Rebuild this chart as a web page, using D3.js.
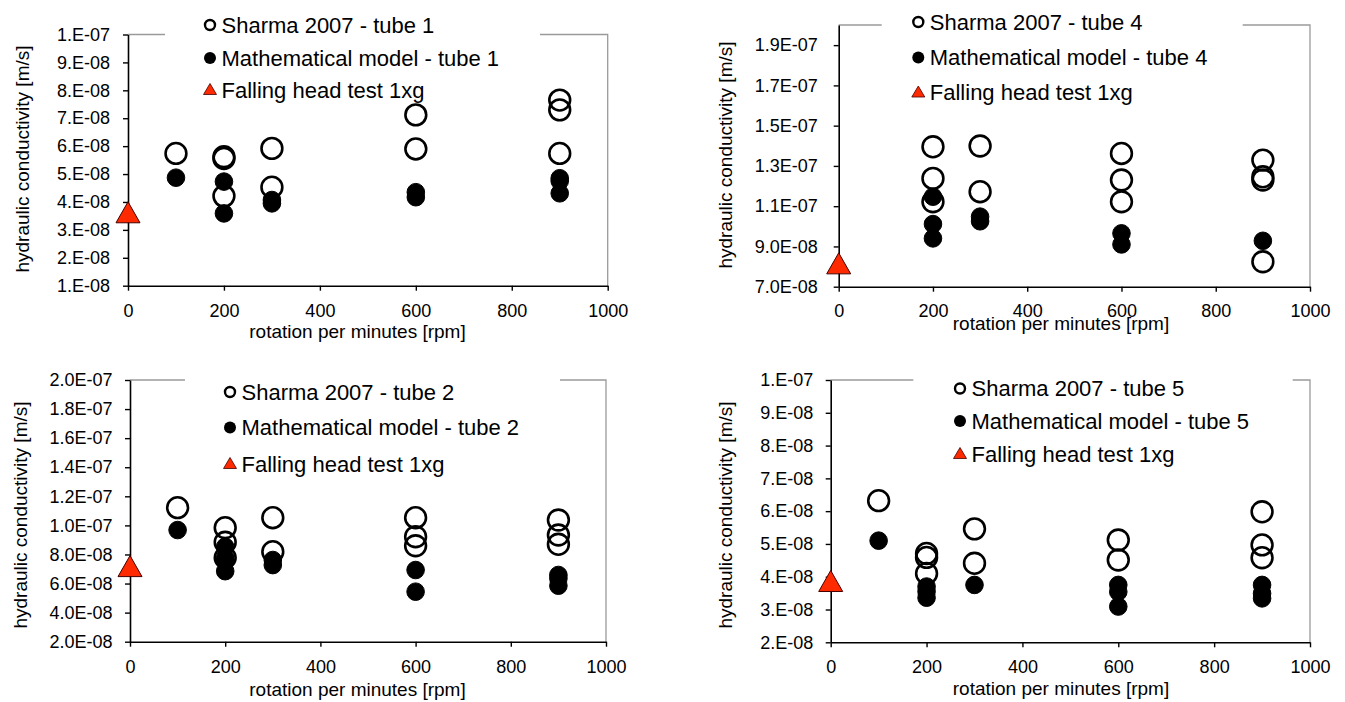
<!DOCTYPE html>
<html>
<head>
<meta charset="utf-8">
<script src="https://cdn.jsdelivr.net/npm/d3@7"></script>
<style>
  html, body { margin: 0; padding: 0; background: #fff; }
  svg { display: block; }
</style>
</head>
<body>
<svg id="chart" width="1345" height="702"></svg>
<script>
// ---------------- DATA ----------------
const xTickValues = [0, 200, 400, 600, 800, 1000];
const xTickLabels = ["0", "200", "400", "600", "800", "1000"];

// tube 1
const tube1SharmaRpm = [100, 200, 200, 200, 300, 300, 600, 600, 900, 900, 900];
const tube1SharmaK   = [5.74e-8, 5.56e-8, 5.62e-8, 4.21e-8, 5.92e-8, 4.53e-8, 7.12e-8, 5.90e-8, 7.65e-8, 7.30e-8, 5.74e-8];
const tube1ModelRpm  = [100, 200, 200, 300, 300, 600, 600, 900, 900, 900];
const tube1ModelK    = [4.87e-8, 4.73e-8, 3.59e-8, 4.07e-8, 3.95e-8, 4.35e-8, 4.17e-8, 4.85e-8, 4.75e-8, 4.31e-8];
const tube1FallingRpm = [0];
const tube1FallingK   = [3.63e-8];
const tube1TickValues = [1e-8, 2e-8, 3e-8, 4e-8, 5e-8, 6e-8, 7e-8, 8e-8, 9e-8, 1e-7];
const tube1TickLabels = ["1.E-08", "2.E-08", "3.E-08", "4.E-08", "5.E-08", "6.E-08", "7.E-08", "8.E-08", "9.E-08", "1.E-07"];

// tube 4
const tube4SharmaRpm = [200, 200, 200, 300, 300, 600, 600, 600, 900, 900, 900, 900];
const tube4SharmaK   = [1.395e-7, 1.238e-7, 1.122e-7, 1.399e-7, 1.172e-7, 1.362e-7, 1.230e-7, 1.122e-7, 1.329e-7, 1.246e-7, 1.230e-7, 8.24e-8];
const tube4ModelRpm  = [200, 200, 200, 300, 300, 600, 600, 900];
const tube4ModelK    = [1.147e-7, 1.011e-7, 9.40e-8, 1.048e-7, 1.025e-7, 9.65e-8, 9.10e-8, 9.28e-8];
const tube4FallingRpm = [0];
const tube4FallingK   = [8.16e-8];
const tube4TickValues = [7e-8, 9e-8, 1.1e-7, 1.3e-7, 1.5e-7, 1.7e-7, 1.9e-7];
const tube4TickLabels = ["7.0E-08", "9.0E-08", "1.1E-07", "1.3E-07", "1.5E-07", "1.7E-07", "1.9E-07"];

// tube 2
const tube2SharmaRpm = [100, 200, 200, 200, 300, 300, 600, 600, 600, 900, 900, 900];
const tube2SharmaK   = [1.122e-7, 9.84e-8, 8.84e-8, 7.78e-8, 1.053e-7, 8.19e-8, 1.053e-7, 9.22e-8, 8.60e-8, 1.037e-7, 9.34e-8, 8.70e-8];
const tube2ModelRpm  = [100, 200, 200, 200, 200, 300, 300, 600, 600, 900, 900, 900];
const tube2ModelK    = [9.68e-8, 8.53e-8, 7.78e-8, 7.60e-8, 6.85e-8, 7.62e-8, 7.27e-8, 6.93e-8, 5.44e-8, 6.59e-8, 6.35e-8, 5.85e-8];
const tube2FallingRpm = [0];
const tube2FallingK   = [7.2e-8];
const tube2TickValues = [2e-8, 4e-8, 6e-8, 8e-8, 1e-7, 1.2e-7, 1.4e-7, 1.6e-7, 1.8e-7, 2e-7];
const tube2TickLabels = ["2.0E-08", "4.0E-08", "6.0E-08", "8.0E-08", "1.0E-07", "1.2E-07", "1.4E-07", "1.6E-07", "1.8E-07", "2.0E-07"];

// tube 5
const tube5SharmaRpm = [100, 200, 200, 200, 300, 300, 600, 600, 900, 900, 900];
const tube5SharmaK   = [6.32e-8, 4.71e-8, 4.59e-8, 4.10e-8, 5.46e-8, 4.41e-8, 5.12e-8, 4.51e-8, 5.98e-8, 4.97e-8, 4.58e-8];
const tube5ModelRpm  = [100, 200, 200, 200, 300, 600, 600, 600, 900, 900, 900];
const tube5ModelK    = [5.10e-8, 3.70e-8, 3.55e-8, 3.36e-8, 3.75e-8, 3.75e-8, 3.54e-8, 3.09e-8, 3.75e-8, 3.49e-8, 3.34e-8];
const tube5FallingRpm = [0];
const tube5FallingK   = [3.87e-8];
const tube5TickValues = [2e-8, 3e-8, 4e-8, 5e-8, 6e-8, 7e-8, 8e-8, 9e-8, 1e-7];
const tube5TickLabels = ["2.E-08", "3.E-08", "4.E-08", "5.E-08", "6.E-08", "7.E-08", "8.E-08", "9.E-08", "1.E-07"];

const xTitle = "rotation per minutes [rpm]";
const yTitle = "hydraulic conductivity [m/s]";
const legendLabels1 = ["Sharma 2007 - tube 1", "Mathematical model - tube 1", "Falling head test 1xg"];
const legendLabels4 = ["Sharma 2007 - tube 4", "Mathematical model - tube 4", "Falling head test 1xg"];
const legendLabels2 = ["Sharma 2007 - tube 2", "Mathematical model - tube 2", "Falling head test 1xg"];
const legendLabels5 = ["Sharma 2007 - tube 5", "Mathematical model - tube 5", "Falling head test 1xg"];

// ---------------- LAYOUT / STYLE ----------------
const FONT = "'Liberation Sans', Arial, Helvetica, sans-serif";
const RED = "#ff2a00";

const panels = [
  { sharma: [tube1SharmaRpm, tube1SharmaK], model: [tube1ModelRpm, tube1ModelK], fall: [tube1FallingRpm, tube1FallingK],
    yDomain: [1e-8, 1e-7], yTicks: tube1TickValues, yLabels: tube1TickLabels, legend: legendLabels1,
    x0: 128, x1: 607.7, yB: 285.7, yT: 34.5, yPad: 13, xLabY: 31, xTitleX: 357.5, xTitleY: 337.5,
    yTitleX: 22, yTitleY: 159, gap: [165, 540], legX: 210, legY: [25, 58, 90] },
  { sharma: [tube4SharmaRpm, tube4SharmaK], model: [tube4ModelRpm, tube4ModelK], fall: [tube4FallingRpm, tube4FallingK],
    yDomain: [7e-8, 2e-7], yTicks: tube4TickValues, yLabels: tube4TickLabels, legend: legendLabels4,
    x0: 838.7, x1: 1310, yB: 286.7, yT: 25, yPad: 16, xLabY: 30, xTitleX: 1061, xTitleY: 329.5,
    yTitleX: 725, yTitleY: 155, gap: [881.7, 1242.7], legX: 918.3, legY: [22, 57.5, 92.5] },
  { sharma: [tube2SharmaRpm, tube2SharmaK], model: [tube2ModelRpm, tube2ModelK], fall: [tube2FallingRpm, tube2FallingK],
    yDomain: [2e-8, 2e-7], yTicks: tube2TickValues, yLabels: tube2TickLabels, legend: legendLabels2,
    x0: 130, x1: 606, yB: 641.7, yT: 380, yPad: 12.5, xLabY: 31.3, xTitleX: 357.5, xTitleY: 696,
    yTitleX: 20, yTitleY: 515, gap: [185, 560], legX: 230, legY: [392, 427.5, 464] },
  { sharma: [tube5SharmaRpm, tube5SharmaK], model: [tube5ModelRpm, tube5ModelK], fall: [tube5FallingRpm, tube5FallingK],
    yDomain: [2e-8, 1e-7], yTicks: tube5TickValues, yLabels: tube5TickLabels, legend: legendLabels5,
    x0: 830.7, x1: 1310, yB: 642.3, yT: 380, yPad: 12.5, xLabY: 30.7, xTitleX: 1061, xTitleY: 694.5,
    yTitleX: 725, yTitleY: 515, gap: [913.3, 1292.7], legX: 960, legY: [388.5, 421, 454] }
];

const svg = d3.select("#chart");

function triPath(w, h) {
  return `M0,${-h / 2}L${w / 2},${h / 2}L${-w / 2},${h / 2}Z`;
}

panels.forEach(p => {
  const g = svg.append("g");
  const x = d3.scaleLinear().domain([0, 1000]).range([p.x0, p.x1]);
  const y = d3.scaleLinear().domain(p.yDomain).range([p.yB, p.yT]);

  // grey top & right frame
  g.append("path")
    .attr("d", `M${p.x0},${p.yT}H${p.x1}V${p.yB}`)
    .attr("fill", "none").attr("stroke", "#9a9a9a").attr("stroke-width", 1.3);

  // legend background covers part of the top frame line only
  g.append("rect")
    .attr("x", p.gap[0]).attr("y", p.yT - 4)
    .attr("width", p.gap[1] - p.gap[0]).attr("height", 8)
    .attr("fill", "#fff");

  // y axis
  const yAxis = d3.axisLeft(y).tickValues(p.yTicks)
    .tickFormat((d, i) => p.yLabels[i]).tickSizeInner(5).tickSizeOuter(0).tickPadding(p.yPad);
  const yg = g.append("g").attr("transform", `translate(${p.x0},0)`).call(yAxis);
  yg.select(".domain").attr("stroke", "#000").attr("stroke-width", 1.6);
  yg.selectAll(".tick line").attr("stroke", "#000").attr("stroke-width", 1.4);
  yg.selectAll(".tick text").attr("font-family", FONT).attr("font-size", 18).attr("fill", "#000");

  // x axis
  const xAxis = d3.axisBottom(x).tickValues(xTickValues)
    .tickFormat((d, i) => xTickLabels[i]).tickSizeInner(5).tickSizeOuter(0);
  const xg = g.append("g").attr("transform", `translate(0,${p.yB})`).call(xAxis);
  xg.select(".domain").attr("stroke", "#000").attr("stroke-width", 1.6);
  xg.selectAll(".tick line").attr("stroke", "#000").attr("stroke-width", 1.4);
  xg.selectAll(".tick text").attr("font-family", FONT).attr("font-size", 18).attr("fill", "#000")
    .attr("dy", null).attr("y", p.xLabY);
  yg.raise();

  // titles
  g.append("text").attr("x", p.xTitleX).attr("y", p.xTitleY)
    .attr("text-anchor", "middle").attr("font-family", FONT).attr("font-size", 19).attr("fill", "#000")
    .text(xTitle);
  g.append("text").attr("transform", `translate(${p.yTitleX},${p.yTitleY}) rotate(-90)`)
    .attr("text-anchor", "middle").attr("dy", "0.35em").attr("font-family", FONT).attr("font-size", 19).attr("fill", "#000")
    .text(yTitle);

  // data: Sharma (open circles)
  const sh = p.sharma[0].map((r, i) => [r, p.sharma[1][i]]);
  g.append("g").selectAll("circle").data(sh).join("circle")
    .attr("cx", d => x(d[0])).attr("cy", d => y(d[1])).attr("r", 10.4)
    .attr("fill", "none").attr("stroke", "#000").attr("stroke-width", 2.6);
  // Model (filled)
  const md = p.model[0].map((r, i) => [r, p.model[1][i]]);
  g.append("g").selectAll("circle").data(md).join("circle")
    .attr("cx", d => x(d[0])).attr("cy", d => y(d[1])).attr("r", 8.8)
    .attr("fill", "#000").attr("stroke", "#000").attr("stroke-width", 1);
  // Falling head (triangle)
  const fh = p.fall[0].map((r, i) => [r, p.fall[1][i]]);
  g.append("g").selectAll("path").data(fh).join("path")
    .attr("transform", d => `translate(${x(d[0])},${y(d[1])})`)
    .attr("d", triPath(24, 21))
    .attr("fill", RED).attr("stroke", "#400").attr("stroke-width", 1);

  // legend
  const lg = g.append("g").attr("font-family", FONT).attr("font-size", 22).attr("fill", "#000");
  lg.append("circle").attr("cx", p.legX).attr("cy", p.legY[0]).attr("r", 5)
    .attr("fill", "none").attr("stroke", "#000").attr("stroke-width", 2.4);
  lg.append("circle").attr("cx", p.legX).attr("cy", p.legY[1]).attr("r", 6)
    .attr("fill", "#000");
  lg.append("path").attr("transform", `translate(${p.legX},${p.legY[2] - 1})`)
    .attr("d", triPath(13, 11)).attr("fill", RED).attr("stroke", "#400").attr("stroke-width", 0.8);
  p.legend.forEach((t, i) => {
    lg.append("text").attr("x", p.legX + 11.5).attr("y", p.legY[i]).attr("dy", "0.36em").text(t);
  });
});
</script>
</body>
</html>
